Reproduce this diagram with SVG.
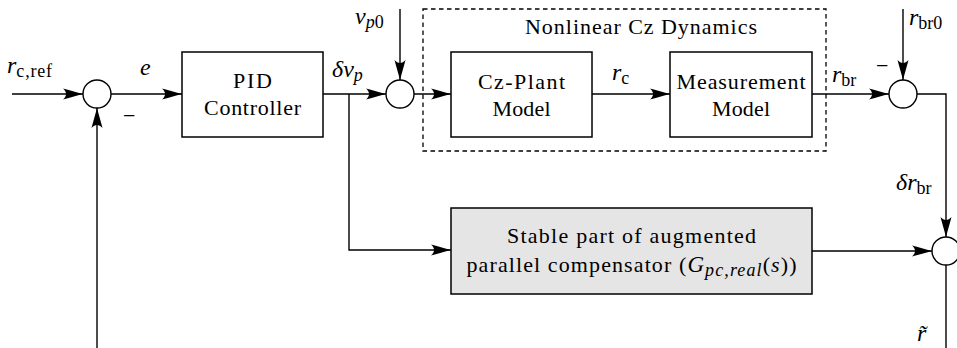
<svg xmlns="http://www.w3.org/2000/svg" width="957" height="348" viewBox="0 0 957 348">
<defs>
<marker id="arr" markerUnits="userSpaceOnUse" viewBox="-21 -6 22 12" refX="0" refY="0" markerWidth="22" markerHeight="12" orient="auto">
<path d="M0,0 C-6,-1.5 -14,-4 -20,-5.5 C-16,-2 -16,2 -20,5.5 C-14,4 -6,1.5 0,0 Z" fill="#000"/>
</marker>
</defs>
<style>
.box{fill:#fff;stroke:#000;stroke-width:1.5}
.gray{fill:#e5e5e5;stroke:#000;stroke-width:1.5}
.sum{fill:#fff;stroke:#000;stroke-width:1.4}
.dash{fill:none;stroke:#000;stroke-width:1.3;stroke-dasharray:4.5,3.5}
.ln{fill:none;stroke:#000;stroke-width:1.4}
.ar{marker-end:url(#arr)}
text{font-family:"Liberation Serif","Times New Roman",serif;font-size:22px;fill:#000}
.t{text-anchor:middle}
.m{font-style:italic;font-size:24px}
.s{font-size:18px;font-style:normal}
.si{font-size:18px;font-style:italic}
</style>

<g id="connectors">
<line class="ln ar" x1="12" y1="94" x2="83" y2="94"/>
<line class="ln ar" x1="111" y1="94" x2="182" y2="94"/>
<line class="ln ar" x1="97" y1="348" x2="97" y2="108"/>
<line class="ln ar" x1="323" y1="94" x2="386" y2="94"/>
<line class="ln ar" x1="400" y1="9" x2="400" y2="80"/>
<line class="ln ar" x1="414" y1="94" x2="451" y2="94"/>
<line class="ln ar" x1="592" y1="94" x2="670" y2="94"/>
<line class="ln ar" x1="812" y1="94" x2="889" y2="94"/>
<line class="ln ar" x1="903" y1="9" x2="903" y2="80"/>
<polyline class="ln ar" points="917,94 946,94 946,237"/>
<polyline class="ln ar" points="349,94 349,250 451,250"/>
<line class="ln ar" x1="812" y1="251" x2="932" y2="251"/>
<line class="ln" x1="946" y1="265" x2="946" y2="348"/>
</g>

<g id="group-nonlinear">
<rect class="dash" x="423" y="9" width="403" height="142"/>
<text class="t" x="641" y="34" textLength="232" lengthAdjust="spacing">Nonlinear Cz Dynamics</text>
</g>

<g id="sum1"><circle class="sum" cx="97" cy="94" r="14"/></g>
<g id="sum2"><circle class="sum" cx="400" cy="94" r="14"/></g>
<g id="sum3"><circle class="sum" cx="903" cy="94" r="14"/></g>
<g id="sum4"><circle class="sum" cx="946" cy="251" r="14"/></g>

<g id="pid">
<rect class="box" x="182" y="52" width="141" height="85"/>
<text class="t" x="252.5" y="88" textLength="39" lengthAdjust="spacing">PID</text>
<text class="t" x="252.5" y="115" textLength="97" lengthAdjust="spacing">Controller</text>
</g>

<g id="plant">
<rect class="box" x="451" y="52" width="141" height="85"/>
<text class="t" x="521.5" y="89" textLength="87" lengthAdjust="spacing">Cz-Plant</text>
<text class="t" x="521.5" y="116" textLength="58" lengthAdjust="spacing">Model</text>
</g>

<g id="measurement">
<rect class="box" x="670" y="52" width="142" height="85"/>
<text class="t" x="741" y="89" textLength="129" lengthAdjust="spacing">Measurement</text>
<text class="t" x="741" y="116" textLength="58" lengthAdjust="spacing">Model</text>
</g>

<g id="compensator">
<rect class="gray" x="451" y="208" width="361" height="86"/>
<text class="t" x="631.5" y="243" textLength="249" lengthAdjust="spacing">Stable part of augmented</text>
<text class="t" x="631.5" y="272" textLength="330" lengthAdjust="spacing">parallel compensator (<tspan font-style="italic" font-size="23">G</tspan><tspan class="si" font-size="16" dy="4">pc,real</tspan><tspan dy="-4">(</tspan><tspan font-style="italic">s</tspan>))</text>
</g>

<g id="labels">
<text class="m" x="7" y="73">r<tspan class="s" dy="4" letter-spacing="0.8">c,ref</tspan></text>
<text class="m" x="140" y="75">e</text>
<text x="123" y="123">−</text>
<text class="m" x="332" y="77">δv<tspan class="si" dy="4">p</tspan></text>
<text class="m" x="355" y="24">v<tspan class="si" dy="4">p</tspan><tspan class="s">0</tspan></text>
<text class="m" x="612" y="80">r<tspan class="s" dy="4">c</tspan></text>
<text class="m" x="832" y="82">r<tspan class="s" dy="4">br</tspan></text>
<text x="876" y="73">−</text>
<text class="m" x="909" y="25">r<tspan class="s" dy="4">br0</tspan></text>
<text class="m" x="896" y="190">δr<tspan class="s" dy="4">br</tspan></text>
<text class="m" x="917" y="341">r̃</text>
</g>
</svg>
